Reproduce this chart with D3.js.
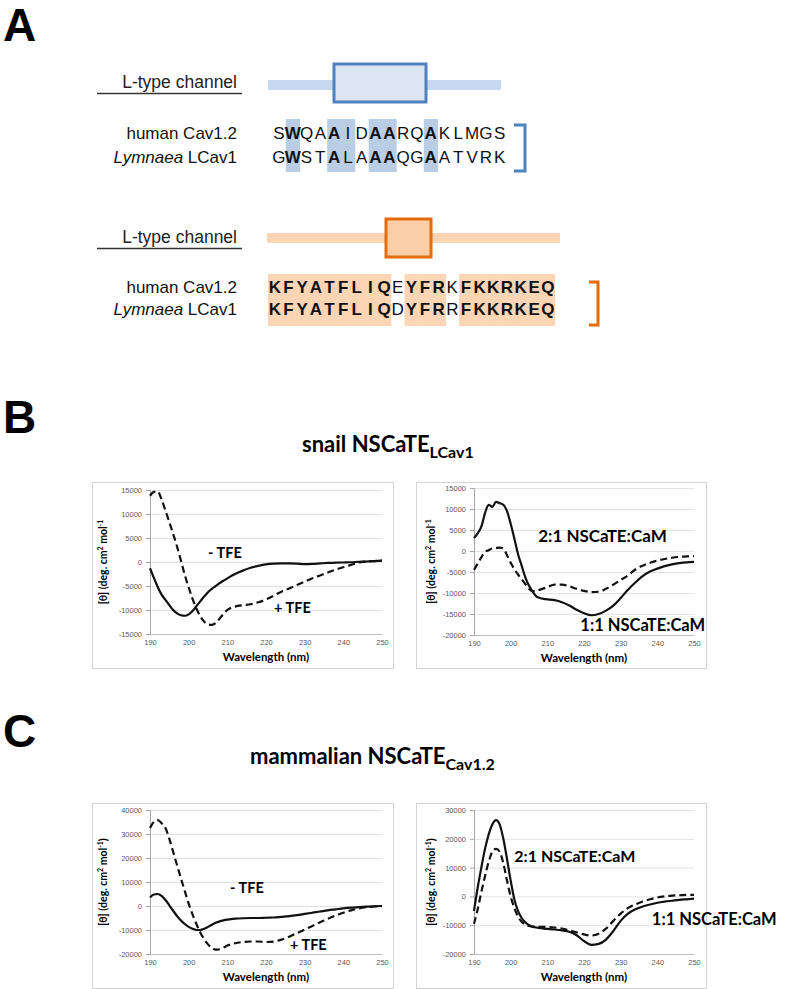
<!DOCTYPE html>
<html>
<head>
<meta charset="utf-8">
<title>NSCaTE CD spectra</title>
<script src="https://cdn.jsdelivr.net/npm/d3@7"></script>
<style>
html, body {
  margin: 0;
  background: #fff;
}
svg {
  display: block;
}
</style>
</head>
<body>
<script>

// ---- panel A: sequences ----
const topHuman = "SWQAAIDAARQAKLMGS";
const topSnail = "GWSTALAAAQGAATVRK";
const topShaded = [1, 4, 5, 7, 8, 11];
const topBold = [1, 4, 7, 8, 11];

const botHuman = "KFYATFLIQEYFRKFKKRKEQ";
const botSnail = "KFYATFLIQDYFRRFKKRKEQ";
const botShaded = [0, 1, 2, 3, 4, 5, 6, 7, 8, 10, 11, 12, 14, 15, 16, 17, 18, 19, 20];
const botBold = botShaded;

// ---- CD spectra, wavelength grid (nm) ----
const nm = [190, 191, 192, 193, 194, 195, 196, 197, 198, 199, 200, 201, 202, 203, 204, 205,
  206, 207, 208, 209, 210, 212, 214, 216, 218, 220, 222, 224, 226, 228, 230, 232, 234, 236,
  238, 240, 242, 244, 246, 248, 250];

// B, snail NSCaTE, -TFE (solid) and +TFE (dashed)
const snailMinusTFE = [-1300, -3300, -5200, -6800, -7900, -9000, -10000, -10700, -11100, -11200,
  -10900, -10200, -9200, -8200, -7200, -6300, -5600, -5000, -4400, -3900, -3400, -2500, -1800,
  -1200, -800, -500, -350, -300, -300, -350, -450, -400, -300, -200, -150, -100, -50, 50, 100,
  200, 300];
const snailPlusTFE = [13800, 14600, 14700, 13000, 10700, 8300, 5800, 3200, 300, -2700, -5300,
  -7700, -9700, -11300, -12400, -13000, -13100, -12700, -11800, -10800, -10000, -9300, -9000,
  -8800, -8400, -7800, -7000, -6200, -5500, -4800, -4100, -3400, -2800, -2200, -1600, -1100,
  -600, -100, 100, 200, 300];

// B, snail NSCaTE with CaM
const snailCaM21 = [3100, 4200, 5800, 9000, 11000, 10500, 11700, 11400, 11000, 9500, 6500, 3000,
  -700, -3500, -6300, -8300, -9700, -10800, -11200, -11400, -11500, -11700, -12200, -13000,
  -14000, -14800, -15300, -15000, -14200, -13000, -11200, -9200, -7500, -6000, -4900, -4200,
  -3600, -3200, -2900, -2700, -2600];
const snailCaM11 = [-4500, -3000, -1500, -200, 200, 600, 700, 800, 600, -1000, -2800, -4300,
  -5600, -6700, -7900, -9000, -9600, -9500, -9200, -8900, -8600, -8000, -8000, -8400, -9000,
  -9500, -9800, -9700, -9000, -8000, -6900, -5800, -4400, -3500, -2800, -2300, -1900, -1600,
  -1400, -1300, -1200];

// C, mammalian NSCaTE, -TFE (solid) and +TFE (dashed)
const mammMinusTFE = [3500, 4800, 5000, 4200, 2500, 300, -2000, -4200, -6000, -7500, -8700,
  -9500, -10000, -10000, -9500, -8700, -7800, -7000, -6400, -6000, -5700, -5300, -5100, -5000,
  -5000, -4900, -4800, -4500, -4200, -3800, -3300, -2800, -2300, -1800, -1400, -1000, -700,
  -500, -300, -100, 0];
const mammPlusTFE = [32500, 35000, 35800, 34500, 32500, 28000, 22500, 17000, 11500, 6200, 1000,
  -3500, -7500, -11000, -13800, -16000, -17500, -18200, -18000, -17300, -16500, -15500, -15000,
  -14800, -14800, -15000, -14800, -14000, -12800, -11300, -9800, -8300, -6800, -5300, -4000,
  -2800, -1800, -1000, -500, -200, -100];

// C, mammalian NSCaTE with CaM
const mammCaM21 = [-5000, 3000, 10000, 16500, 21500, 25000, 26500, 25000, 20000, 13000, 5500,
  -1000, -5000, -7500, -9000, -10000, -10500, -10800, -11000, -11200, -11300, -11500, -11800,
  -12300, -13500, -15500, -16800, -16500, -15000, -12000, -8500, -6000, -4500, -3500, -2800,
  -2200, -1800, -1500, -1200, -1000, -800];
const mammCaM11 = [-9500, -4500, 1500, 7000, 12000, 15500, 16500, 15500, 11500, 5500, 0, -4000,
  -7000, -8800, -9800, -10300, -10500, -10600, -10600, -10600, -10600, -10800, -11200, -11800,
  -12500, -13200, -13600, -13000, -11200, -8500, -6000, -4000, -2800, -1800, -1000, -400, 0,
  300, 400, 500, 500];

const nmTicks = [190, 200, 210, 220, 230, 240, 250];

const W = 785, H = 989;
const svg = d3.select("body").append("svg")
    .attr("width", W)
    .attr("height", H)
    .style("font-family", "'Liberation Sans', Arial, sans-serif");

const chartFont = "Lato, 'Open Sans', sans-serif";

// panel letters
[["A", 3, 41], ["B", 3, 433], ["C", 3, 747]].forEach(function(d) {
  svg.append("text")
      .attr("x", d[1]).attr("y", d[2])
      .attr("font-size", 46).attr("font-weight", "bold")
      .text(d[0]);
});

// ---- panel A ----
function channelRow(o) {
  // label and underline
  svg.append("text")
      .attr("x", 237).attr("y", o.labelY)
      .attr("text-anchor", "end")
      .attr("font-size", 17.5).attr("fill", "#222")
      .text("L-type channel");
  svg.append("line")
      .attr("x1", 97).attr("x2", 242)
      .attr("y1", o.labelY + 5.5).attr("y2", o.labelY + 5.5)
      .attr("stroke", "#333").attr("stroke-width", 1.3);

  // channel bar with domain box
  svg.append("rect")
      .attr("x", o.bar[0]).attr("y", o.barY - 5)
      .attr("width", o.bar[1] - o.bar[0]).attr("height", 10)
      .attr("fill", o.barFill);
  svg.append("rect")
      .attr("x", o.box[0]).attr("y", o.box[1])
      .attr("width", o.box[2]).attr("height", o.box[3])
      .attr("fill", o.boxFill)
      .attr("stroke", o.stroke).attr("stroke-width", 3);

  const x = d3.scaleLinear().domain([0, 1]).range([o.seqX, o.seqX + o.pitch]);

  // shaded columns
  svg.append("g").selectAll("rect")
    .data(o.shaded)
    .enter().append("rect")
      .attr("x", function(d) { return x(d); })
      .attr("y", o.shadeY[0])
      .attr("width", o.pitch + 0.5)
      .attr("height", o.shadeY[1] - o.shadeY[0])
      .attr("fill", o.shade);

  // row labels
  svg.append("text")
      .attr("x", 237).attr("y", o.rowY[0])
      .attr("text-anchor", "end").attr("font-size", 17).attr("fill", "#111")
      .text("human Cav1.2");
  const t = svg.append("text")
      .attr("x", 237).attr("y", o.rowY[1])
      .attr("text-anchor", "end").attr("font-size", 17).attr("fill", "#111");
  t.append("tspan").attr("font-style", "italic").text("Lymnaea");
  t.append("tspan").text(" LCav1");

  // residues
  [o.seqs[0], o.seqs[1]].forEach(function(seq, r) {
    svg.append("g").selectAll("text")
      .data(seq.split(""))
      .enter().append("text")
        .attr("x", function(d, i) { return x(i + 0.5); })
        .attr("y", o.rowY[r])
        .attr("text-anchor", "middle")
        .attr("font-size", 17)
        .attr("font-weight", function(d, i) { return o.bold.indexOf(i) >= 0 ? "bold" : "normal"; })
        .attr("fill", "#111")
        .text(function(d) { return d; });
  });

  // bracket
  const b = o.bracket;
  svg.append("path")
      .attr("d", "M" + b[0] + "," + b[2] + "H" + b[1] + "V" + b[3] + "H" + b[0])
      .attr("fill", "none")
      .attr("stroke", o.stroke).attr("stroke-width", 3);
}

channelRow({
  labelY: 88, bar: [268, 501], barY: 85, barFill: "#c6d9f1",
  box: [334, 64, 92, 38], boxFill: "#dce6f2", stroke: "#4f81bd",
  seqX: 272, pitch: 13.8, shaded: topShaded, bold: topBold, shade: "#b9cde5",
  shadeY: [119, 172], rowY: [139, 163], seqs: [topHuman, topSnail],
  bracket: [514, 525, 125, 171]
});

channelRow({
  labelY: 243, bar: [267, 560], barY: 238, barFill: "#fcd5b5",
  box: [386, 219, 45, 38], boxFill: "#fbcfa9", stroke: "#e46c0a",
  seqX: 268, pitch: 13.65, shaded: botShaded, bold: botBold, shade: "#fcd5b5",
  shadeY: [274, 326], rowY: [293, 315], seqs: [botHuman, botSnail],
  bracket: [589, 598, 282, 325]
});

// ---- titles for B and C ----
function title(x, y, main, sub) {
  const t = svg.append("text")
      .attr("x", x).attr("y", y)
      .attr("font-family", chartFont)
      .attr("font-weight", "bold").attr("font-size", 22)
      .text(main);
  t.append("tspan").attr("dy", 6).attr("font-size", 16).text(sub);
}
title(302, 452, "snail NSCaTE", "LCav1");
title(250, 764, "mammalian NSCaTE", "Cav1.2");

// ---- CD charts ----
function cdChart(o) {
  const g = svg.append("g").attr("font-family", chartFont);

  g.append("rect")
      .attr("x", o.box[0] + 0.5).attr("y", o.box[1] + 0.5)
      .attr("width", o.box[2]).attr("height", o.box[3])
      .attr("fill", "#fff").attr("stroke", "#d4d4d4");

  const x = d3.scaleLinear().domain([190, 250]).range(o.xr);
  const y = d3.scaleLinear().domain(o.yd).range(o.yr);

  // gridlines
  g.append("g")
      .attr("transform", "translate(" + o.xr[0] + ",0)")
      .call(d3.axisLeft(y).tickValues(o.yTicks).tickSize(-(o.xr[1] - o.xr[0])).tickFormat(""))
      .call(function(s) {
        s.select(".domain").remove();
        s.selectAll("line").attr("stroke", "#e2e2e2");
      });

  // y axis
  g.append("g")
      .attr("transform", "translate(" + o.xr[0] + ",0)")
      .call(d3.axisLeft(y).tickValues(o.yTicks).tickSize(4).tickPadding(4)
        .tickFormat(function(d) { return String(d); }))
      .call(function(s) {
        s.selectAll("line, .domain").attr("stroke", "#a6a6a6");
        s.selectAll("text").attr("fill", "#595959").attr("font-size", 7.5)
          .attr("font-family", "'Liberation Sans', Arial, sans-serif");
      });

  // x axis at the bottom
  g.append("g")
      .attr("transform", "translate(0," + o.yr[0] + ")")
      .call(d3.axisBottom(x).tickValues(nmTicks).tickSize(0).tickPadding(6))
      .call(function(s) {
        s.select(".domain").attr("stroke", "#bfbfbf");
        s.selectAll("text").attr("fill", "#595959").attr("font-size", 7.5)
          .attr("font-family", "'Liberation Sans', Arial, sans-serif");
      });

  g.append("text")
      .attr("x", (o.xr[0] + o.xr[1]) / 2).attr("y", o.yr[0] + 27)
      .attr("text-anchor", "middle")
      .attr("font-weight", "bold").attr("font-size", 11.5)
      .text("Wavelength (nm)");

  const yt = g.append("text")
      .attr("transform", "translate(" + o.yTitleX + "," + ((o.yr[0] + o.yr[1]) / 2) + ") rotate(-90)")
      .attr("text-anchor", "middle")
      .attr("font-weight", "bold").attr("font-size", 10.5);
  yt.append("tspan").text("[θ] (deg. cm");
  yt.append("tspan").attr("dy", -4).attr("font-size", 7).text("2");
  yt.append("tspan").attr("dy", 4).text(" mol");
  yt.append("tspan").attr("dy", -4).attr("font-size", 7).text("-1");
  if (o.closeParen) yt.append("tspan").attr("dy", 4).text(")");

  const line = d3.line()
      .x(function(d, i) { return x(nm[i]); })
      .y(function(d) { return y(d); })
      .curve(d3.curveMonotoneX);

  o.series.forEach(function(s) {
    g.append("path")
        .datum(s.values)
        .attr("d", line)
        .attr("fill", "none")
        .attr("stroke", "#111")
        .attr("stroke-width", 2.2)
        .attr("stroke-dasharray", s.dashed ? "7,4" : null);
  });

  o.labels.forEach(function(l) {
    g.append("text")
        .attr("x", x(l.nm)).attr("y", y(l.v))
        .attr("font-weight", "bold").attr("font-size", l.size)
        .text(l.text);
  });
}

cdChart({
  box: [92, 482, 301, 186], xr: [150, 382], yr: [634, 490], yTitleX: 107,
  yd: [-15000, 15000], yTicks: d3.range(-15000, 15001, 5000),
  series: [{ values: snailMinusTFE }, { values: snailPlusTFE, dashed: true }],
  labels: [{ text: "- TFE", nm: 205, v: 830, size: 14.5 },
           { text: "+ TFE", nm: 222.1, v: -10600, size: 14.5 }]
});

cdChart({
  box: [416, 482, 290, 186], xr: [474, 694], yr: [635, 488], yTitleX: 435,
  yd: [-20000, 15000], yTicks: d3.range(-20000, 15001, 5000),
  series: [{ values: snailCaM21 }, { values: snailCaM11, dashed: true }],
  labels: [{ text: "2:1 NSCaTE:CaM", nm: 207.5, v: 2140, size: 17 },
           { text: "1:1 NSCaTE:CaM", nm: 219, v: -19000, size: 16.5 }]
});

cdChart({
  box: [92, 803, 301, 185], xr: [150, 382], yr: [954, 810], yTitleX: 107, closeParen: true,
  yd: [-20000, 40000], yTicks: d3.range(-20000, 40001, 10000),
  series: [{ values: mammMinusTFE }, { values: mammPlusTFE, dashed: true }],
  labels: [{ text: "- TFE", nm: 210.7, v: 5400, size: 14.5 },
           { text: "+ TFE", nm: 226.2, v: -18500, size: 14.5 }]
});

cdChart({
  box: [416, 803, 290, 185], xr: [474, 694], yr: [954, 810], yTitleX: 435, closeParen: true,
  yd: [-20000, 30000], yTicks: d3.range(-20000, 30001, 10000),
  series: [{ values: mammCaM21 }, { values: mammCaM11, dashed: true }],
  labels: [{ text: "2:1 NSCaTE:CaM", nm: 201, v: 12000, size: 16 },
           { text: "1:1 NSCaTE:CaM", nm: 238.5, v: -10000, size: 16.5 }]
});

</script>
</body>
</html>
